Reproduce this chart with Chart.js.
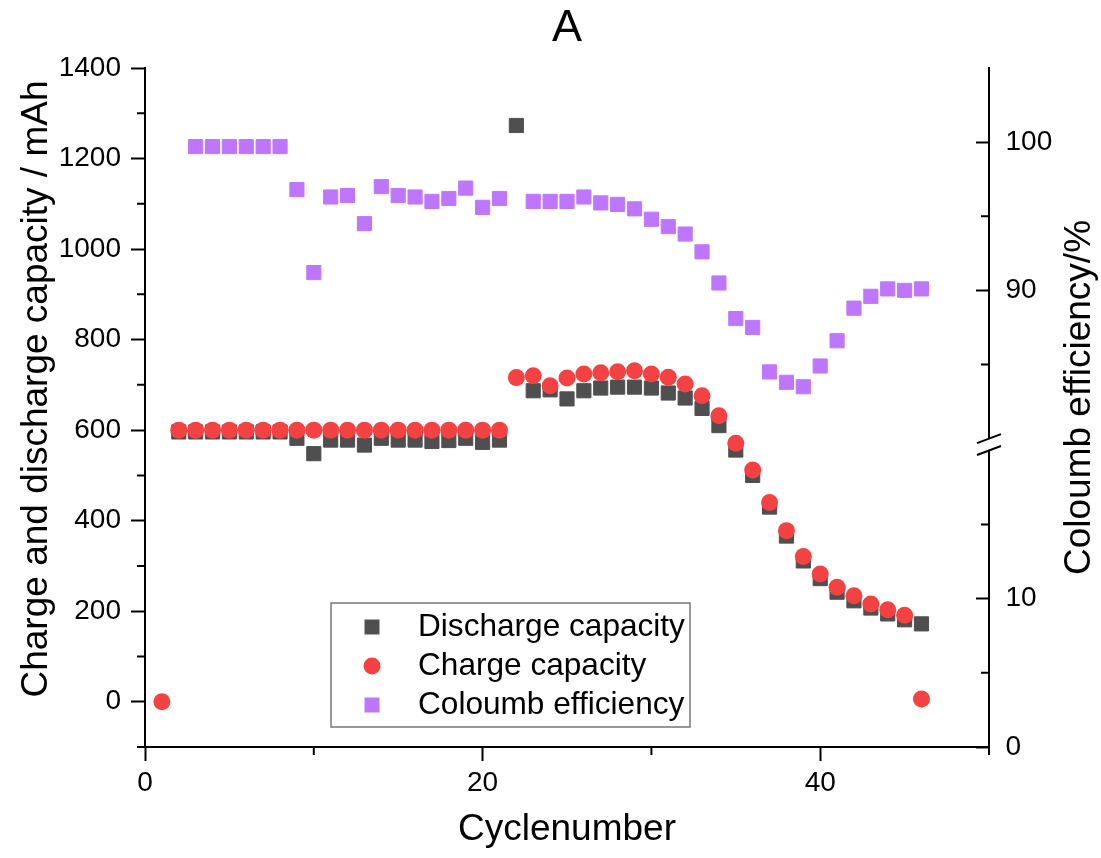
<!DOCTYPE html>
<html>
<head>
<meta charset="utf-8">
<title>Cycle capacity</title>
<script src="https://cdn.jsdelivr.net/npm/chart.js@4/dist/chart.umd.min.js"></script>
<style>
  body { margin: 0; background: #fff; }
  #wrap { width: 1101px; height: 858px; }
</style>
</head>
<body>
<div id="wrap"><canvas id="capChart" width="1101" height="858"></canvas></div>
<script>
// Daten
const CYCLES = [1, 2, 3, 4, 5, 6, 7, 8, 9, 10, 11, 12, 13, 14, 15, 16, 17, 18, 19, 20, 21, 22, 23,
  24, 25, 26, 27, 28, 29, 30, 31, 32, 33, 34, 35, 36, 37, 38, 39, 40, 41, 42, 43, 44, 45, 46];
const DISCHARGE = [null, 596, 596, 596, 596, 596, 596, 596, 582, 548, 578, 578, 567, 582, 578, 578,
  575, 577, 582, 573, 578, 1273, 687, 689, 669, 687, 693, 695, 695, 693, 682, 671, 648, 610, 556,
  500, 430, 366, 311, 272, 242, 223, 207, 194, 181, 172];
const CHARGE = [0, 600, 600, 600, 600, 600, 600, 600, 600, 600, 600, 600, 600, 600, 600, 600, 600,
  600, 600, 600, 600, 716, 720, 698, 715, 724, 727, 729, 731, 724, 717, 702, 676, 632, 571, 512,
  440, 378, 321, 282, 253, 234, 216, 203, 191, 6];
const COULOMB = [null, null, 99.7, 99.7, 99.7, 99.7, 99.7, 99.7, 96.8, 91.2, 96.3, 96.4, 94.5, 97.0,
  96.4, 96.3, 96.0, 96.2, 96.9, 95.6, 96.2, null, 96.0, 96.0, 96.0, 96.3, 95.9, 95.8, 95.5, 94.8,
  94.3, 93.8, 92.6, 90.5, 88.1, 87.5, 84.5, 83.8, 83.5, 84.9, 86.6, 88.8, 89.6, 90.1, 90.0, 90.1];

const LABELS = ['Discharge capacity', 'Charge capacity', 'Coloumb efficiency'];

// Achsen-Ticks
const X_TICKS = [0, 20, 40];
const X_MINOR = [10, 30, 50];
const Y_TICKS = [0, 200, 400, 600, 800, 1000, 1200, 1400];
const Y_MINOR = [-100, 100, 300, 500, 700, 900, 1100, 1300];
const CE_HIGH_TICKS = [90, 100];
const CE_HIGH_MINOR = [85, 95];
const CE_LOW_TICKS = [0, 10];
const CE_LOW_MINOR = [5, 15];

const COLORS = ['#4f4f4f', '#f44242', '#bf76ff'];
const FONT = "'Liberation Sans', Arial, sans-serif";
Chart.defaults.font.family = FONT;
Chart.defaults.color = '#000';

const toPoints = arr => CYCLES.map((c, i) => ({ x: c, y: arr[i] }));
const setTicks = list => scale => { scale.ticks = list.map(v => ({ value: v })); };
const plain = v => String(v);

// kleine Ticks, Achsenbruch, Achsentitel, Legende
const extras = {
    id: 'extras',
    afterDraw(chart) {
        const { ctx, chartArea: a, scales } = chart;
        ctx.save();
        ctx.strokeStyle = '#000';
        ctx.lineWidth = 2;
        ctx.beginPath();
        X_MINOR.forEach(v => {
            const p = scales.x.getPixelForValue(v);
            ctx.moveTo(p, a.bottom); ctx.lineTo(p, a.bottom + 8);
        });
        Y_MINOR.forEach(v => {
            const p = scales.y.getPixelForValue(v);
            ctx.moveTo(a.left - 8, p); ctx.lineTo(a.left, p);
        });
        CE_HIGH_MINOR.forEach(v => {
            const p = scales.ceHigh.getPixelForValue(v);
            ctx.moveTo(a.right - 8, p); ctx.lineTo(a.right, p);
        });
        CE_LOW_MINOR.forEach(v => {
            const p = scales.ceLow.getPixelForValue(v);
            ctx.moveTo(a.right - 8, p); ctx.lineTo(a.right, p);
        });
        ctx.stroke();

        // Achsenbruch
        const yHi = scales.ceHigh.getPixelForValue(80);
        const yLo = scales.ceLow.getPixelForValue(20);
        ctx.fillStyle = '#fff';
        ctx.fillRect(a.right - 4, yHi, 8, yLo - yHi);
        ctx.beginPath();
        [yHi, yLo].forEach(p => {
            ctx.moveTo(a.right - 12, p + 4.5); ctx.lineTo(a.right + 12, p - 4.5);
        });
        ctx.stroke();

        // Achsentitel links und rechts
        ctx.fillStyle = '#000';
        ctx.font = '37px ' + FONT;
        ctx.textAlign = 'center';
        ctx.textBaseline = 'middle';
        ctx.save();
        ctx.translate(37, 389);
        ctx.rotate(-Math.PI / 2);
        ctx.fillText('Charge and discharge capacity / mAh', 0, 0);
        ctx.restore();
        ctx.translate(1080, (a.top + a.bottom) / 2 - 10);
        ctx.rotate(-Math.PI / 2);
        ctx.fillText('Coloumb efficiency/%', 0, 0);
        ctx.restore();

        // Legende
        ctx.save();
        ctx.strokeStyle = '#777';
        ctx.lineWidth = 1.5;
        ctx.strokeRect(331, 603, 359, 124);
        ctx.font = '31.6px ' + FONT;
        ctx.textBaseline = 'middle';
        ctx.textAlign = 'left';
        const rows = [627, 666, 705];
        LABELS.forEach((txt, i) => {
            const y = rows[i];
            ctx.fillStyle = COLORS[i];
            if (i === 1) {
                ctx.beginPath();
                ctx.arc(372, y, 8.5, 0, Math.PI * 2);
                ctx.fill();
            } else {
                ctx.fillRect(372 - 7.5, y - 7.5, 15, 15);
            }
            ctx.fillStyle = '#000';
            ctx.fillText(txt, 418, y);
        });
        ctx.restore();
    }
};

const axisBorder = { display: true, color: '#000', width: 2 };

new Chart(document.getElementById('capChart'), {
    type: 'scatter',
    data: {
        datasets: [
            {
                label: LABELS[0],
                data: toPoints(DISCHARGE),
                yAxisID: 'y',
                pointStyle: 'rect',
                pointRadius: 10,
                borderWidth: 1,
                backgroundColor: COLORS[0],
                borderColor: COLORS[0],
                order: 2
            },
            {
                label: LABELS[1],
                data: toPoints(CHARGE),
                yAxisID: 'y',
                pointStyle: 'circle',
                pointRadius: 8.5,
                borderWidth: 0,
                backgroundColor: COLORS[1],
                borderColor: COLORS[1],
                order: 1
            },
            {
                label: LABELS[2],
                data: toPoints(COULOMB),
                yAxisID: 'ceHigh',
                pointStyle: 'rect',
                pointRadius: 10,
                borderWidth: 1,
                backgroundColor: COLORS[2],
                borderColor: COLORS[2],
                order: 3
            }
        ]
    },
    options: {
        responsive: false,
        animation: false,
        layout: { padding: 0 },
        plugins: {
            legend: { display: false },
            tooltip: { enabled: false },
            title: {
                display: true,
                fullSize: false,
                text: 'A',
                color: '#000',
                font: { size: 45, weight: 'normal' },
                padding: { top: 2, bottom: 12 }
            }
        },
        scales: {
            x: {
                type: 'linear',
                min: 0,
                max: 50,
                afterBuildTicks: setTicks(X_TICKS),
                afterFit: s => { s.height = 111; },
                border: axisBorder,
                grid: { drawOnChartArea: false, tickLength: 14, tickWidth: 2, tickColor: '#000' },
                ticks: { font: { size: 28 }, padding: 5, maxRotation: 0, callback: plain },
                title: { display: true, text: 'Cyclenumber', font: { size: 37 }, padding: { top: 0, bottom: 6 } }
            },
            y: {
                type: 'linear',
                position: 'left',
                min: -100,
                max: 1400,
                afterBuildTicks: setTicks(Y_TICKS),
                afterFit: s => { s.width = 145; },
                border: axisBorder,
                grid: { drawOnChartArea: false, tickLength: 14, tickWidth: 2, tickColor: '#000' },
                ticks: { font: { size: 28 }, padding: 10, callback: plain }
            },
            ceHigh: {
                type: 'linear',
                position: 'right',
                stack: 'ce',
                stackWeight: 25.4,
                min: 79.6,
                max: 105,
                afterBuildTicks: setTicks(CE_HIGH_TICKS),
                afterFit: s => { s.width = 112; },
                border: axisBorder,
                grid: { drawOnChartArea: false, tickLength: -13, tickWidth: 2, tickColor: '#000' },
                ticks: { font: { size: 28 }, padding: 29.5, callback: plain }
            },
            ceLow: {
                type: 'linear',
                position: 'right',
                stack: 'ce',
                stackWeight: 20.4,
                min: 0,
                max: 20.4,
                afterBuildTicks: setTicks(CE_LOW_TICKS),
                afterFit: s => { s.width = 112; },
                border: axisBorder,
                grid: { drawOnChartArea: false, tickLength: -13, tickWidth: 2, tickColor: '#000' },
                ticks: { font: { size: 28 }, padding: 29.5, callback: plain }
            }
        }
    },
    plugins: [extras]
});
</script>
</body>
</html>
